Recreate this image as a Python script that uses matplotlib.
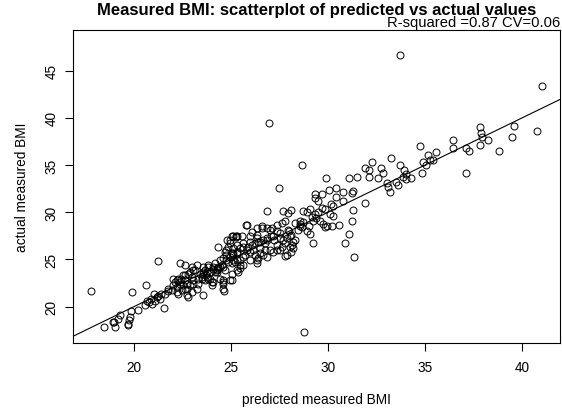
import numpy as np
import matplotlib.pyplot as plt

plt.rcParams['font.family'] = ['Liberation Sans', 'DejaVu Sans']

# (predicted, actual) BMI pairs, grouped by predicted range
low_bmi = [
    (17.78, 21.65), (21.25, 24.82), (19.91, 21.54), (20.62, 22.33), (18.47, 17.86),
    (18.98, 18.33), (19.02, 17.80), (19.16, 18.68), (19.28, 19.11), (19.68, 18.15),
    (19.68, 18.04), (19.74, 18.60), (19.79, 18.86), (19.85, 19.57), (20.22, 19.65),
    (20.57, 20.21), (20.65, 20.64), (20.77, 20.47), (20.88, 20.83), (20.94, 20.29),
    (21.05, 21.36), (21.08, 20.64), (21.17, 21.00), (21.25, 21.18), (21.34, 20.83),
    (21.56, 19.86), (21.60, 21.36), (21.77, 21.71), (21.42, 21.37), (21.77, 21.90),
    (18.93, 18.33),
]

mid_low_bmi = [
    (24.35, 26.37), (24.75, 25.48), (24.61, 25.12), (24.87, 24.76), (24.61, 24.23),
    (24.70, 23.87), (24.61, 22.80), (24.61, 22.44), (24.61, 21.90), (24.27, 23.87),
    (24.10, 24.23), (24.35, 24.05), (23.92, 23.69), (23.75, 23.69), (23.58, 23.51),
    (23.49, 22.98), (23.66, 22.80), (23.75, 23.15), (24.01, 22.62), (24.01, 22.26),
    (23.58, 24.23), (23.23, 24.40), (22.98, 24.23), (22.63, 24.40), (22.38, 24.58),
    (22.80, 23.51), (22.55, 23.33), (22.63, 22.80), (22.38, 22.44), (22.20, 22.80),
    (22.03, 22.26), (21.95, 21.73), (22.20, 21.55), (22.46, 21.73), (22.72, 21.90),
    (22.89, 22.26), (22.98, 21.55), (22.72, 21.19), (23.58, 21.19), (23.15, 23.87),
    (23.32, 22.44), (23.06, 22.80), (24.87, 26.37), (24.95, 27.08), (25.04, 27.44),
    (25.12, 27.44), (24.95, 25.30), (25.04, 24.58),
    (22.89, 23.69), (24.78, 27.07), (25.24, 27.44), (24.69, 25.83), (23.83, 24.39),
    (24.26, 24.04), (23.92, 22.97), (22.80, 21.00), (24.62, 21.70), (25.04, 22.79),
    (22.11, 22.62), (22.23, 22.08), (22.28, 21.37), (22.37, 22.62), (22.45, 22.97),
    (22.51, 22.26), (22.63, 21.90), (22.71, 22.44), (22.97, 23.15), (23.06, 22.44),
    (23.23, 21.90), (23.31, 22.97), (23.40, 23.51), (23.49, 23.15), (23.66, 23.87),
    (23.74, 23.33), (24.09, 24.04), (24.17, 23.69), (24.34, 24.22), (24.52, 24.40),
    (24.77, 24.94), (25.12, 25.65), (25.29, 24.94), (22.28, 22.97), (22.03, 22.97),
    (22.63, 23.33), (23.06, 23.87),
    (23.83, 24.23), (23.57, 23.69), (24.09, 22.62), (24.60, 22.62), (24.43, 24.94),
    (24.17, 24.58), (24.77, 26.01), (24.43, 24.23), (24.26, 23.69), (23.83, 22.98),
    (24.43, 22.98),
]

mid_bmi = [
    (26.84, 30.12), (27.70, 30.12), (25.77, 28.69), (26.58, 28.51), (27.10, 28.33),
    (27.61, 28.87), (27.79, 29.04), (25.29, 27.44), (25.98, 27.44), (26.32, 27.26),
    (26.50, 26.90), (26.84, 27.08), (27.18, 27.44), (27.53, 27.79), (27.36, 26.55),
    (27.79, 26.72), (25.64, 26.72), (25.90, 26.37), (26.15, 26.01), (26.50, 26.19),
    (26.67, 25.47), (27.01, 26.01), (27.18, 25.83), (27.53, 26.01), (26.32, 24.94),
    (26.32, 24.58), (25.98, 24.94), (25.64, 25.30), (25.29, 25.65), (25.12, 24.94),
    (25.47, 24.40), (25.29, 23.87), (25.04, 23.51), (26.84, 25.30),
    (26.36, 27.62), (26.66, 27.08), (26.41, 26.90), (26.24, 26.73), (26.75, 26.73),
    (26.84, 27.26), (27.09, 27.44), (27.21, 27.08), (27.52, 27.26), (27.70, 27.08),
    (27.78, 25.40), (27.35, 26.01), (26.75, 26.01), (26.49, 25.65), (26.41, 25.12),
    (26.24, 25.48), (25.98, 25.83), (25.81, 26.01), (25.63, 26.37), (25.46, 26.19),
    (25.29, 25.83), (25.12, 25.48), (25.03, 25.65), (24.95, 22.80), (25.12, 26.19),
    (25.29, 26.55), (24.95, 26.73), (25.98, 26.90), (26.06, 26.55), (25.72, 25.48),
    (25.46, 24.94), (25.20, 24.76), (25.63, 24.40), (25.46, 24.05), (25.38, 23.69),
    (27.61, 26.37), (26.84, 28.33), (26.32, 28.33), (25.55, 27.44), (27.35, 28.69),
    (25.81, 28.68), (26.58, 28.33), (27.01, 28.15), (27.36, 27.97), (26.07, 27.90),
    (25.26, 27.33),
    (26.96, 39.43), (27.49, 32.54),
]

upper_mid_bmi = [
    (28.30, 28.86), (28.55, 28.50), (27.95, 28.15), (28.12, 27.61), (27.87, 27.25),
    (28.21, 26.90), (28.04, 26.36), (28.12, 25.83), (27.87, 25.47), (28.12, 30.29),
    (27.95, 29.93), (28.04, 27.44), (28.30, 27.08), (28.13, 26.55), (28.21, 26.19),
    (28.00, 27.97), (28.47, 28.15), (28.56, 29.04),
]

high_bmi = [
    (28.65, 35.00), (29.88, 33.60), (31.10, 33.60), (31.52, 33.78), (31.91, 34.70),
    (32.13, 34.48), (32.25, 35.37), (32.12, 33.71), (32.56, 33.64), (32.74, 34.70),
    (32.82, 34.17), (33.23, 35.76), (33.71, 35.01), (33.92, 34.48), (34.02, 34.06),
    (33.06, 33.06), (33.11, 32.65), (33.20, 32.18), (33.51, 33.24), (33.63, 32.89),
    (33.89, 33.71), (34.02, 33.53), (34.26, 33.60), (34.75, 37.07), (34.83, 34.14),
    (34.92, 35.37), (35.05, 35.01), (35.14, 36.07), (35.26, 35.55), (35.40, 35.55),
    (35.57, 36.36), (36.46, 37.67), (36.46, 36.77), (37.10, 36.77), (37.27, 36.52),
    (37.10, 34.13), (37.84, 39.00), (37.89, 38.40), (37.92, 38.00), (37.84, 37.17),
    (38.23, 37.68), (38.82, 36.52), (39.47, 37.93), (39.61, 39.17), (40.76, 38.58),
    (41.05, 43.34), (33.71, 46.62),
    (29.33, 31.95), (29.33, 31.49), (29.50, 31.24), (29.68, 31.95), (30.05, 32.40),
    (30.40, 32.54), (30.40, 31.58), (30.79, 32.12), (30.79, 31.24), (31.31, 32.30),
    (31.26, 32.00), (31.91, 30.99), (31.27, 30.28), (31.22, 29.11), (31.10, 27.71),
    (30.88, 26.72), (31.34, 25.31), (30.57, 28.66), (30.19, 28.59), (30.28, 29.65),
    (30.11, 29.83), (30.14, 30.89), (30.28, 30.71), (29.85, 30.35), (29.68, 30.43),
    (29.50, 30.00), (29.33, 29.83), (29.08, 30.35), (28.90, 30.00), (28.73, 30.18),
    (29.16, 29.47), (29.38, 29.36), (29.59, 29.11), (29.76, 28.77), (29.85, 28.41),
    (29.97, 28.59), (29.21, 29.11), (29.00, 28.59), (28.73, 28.95), (28.65, 28.41),
    (28.90, 28.06), (29.08, 27.71), (29.21, 26.72), (28.56, 28.77),
    (28.76, 17.32),
]

x_ticks = [20, 25, 30, 35, 40]
y_ticks = [20, 25, 30, 35, 40, 45]

pts = np.array(low_bmi + mid_low_bmi + mid_bmi + upper_mid_bmi + high_bmi)

fig = plt.figure(figsize=(5.62, 4.10), dpi=100)
ax = fig.add_axes([73 / 562, 1 - 344 / 410, 487 / 562, 313.3 / 410])

ax.plot(pts[:, 0], pts[:, 1], 'o', mfc='none', mec='black', ms=5, mew=0.7)
ax.axline((20, 20), slope=1, color='black', lw=0.8)

ax.set_xlim(16.86, 41.96)
ax.set_ylim(16.15, 49.35)
ax.set_xticks(x_ticks)
ax.set_yticks(y_ticks)
ax.tick_params(length=5.5, width=0.8, labelsize=9.8, color='black')
ax.tick_params(axis='x', pad=7)
ax.tick_params(axis='y', pad=5)
for lab in ax.get_yticklabels():
    lab.set_rotation(90)
    lab.set_va('center')
for s in ax.spines.values():
    s.set_linewidth(0.8)

fig.text(316.5 / 562, 1 - 10.5 / 410, 'Measured BMI: scatterplot of predicted vs actual values',
         ha='center', va='center', fontsize=12, fontweight='bold')
fig.text(560 / 562, 1 - 23.5 / 410, 'R-squared =0.87 CV=0.06', ha='right', va='center', fontsize=10.6)
fig.text(316.5 / 562, 1 - 400 / 410, 'predicted measured BMI', ha='center', va='center', fontsize=9.8)
fig.text(22 / 562, 1 - 187 / 410, 'actual measured BMI', ha='center', va='center',
         rotation=90, fontsize=9.8)

fig.savefig('out.png', dpi=100)
